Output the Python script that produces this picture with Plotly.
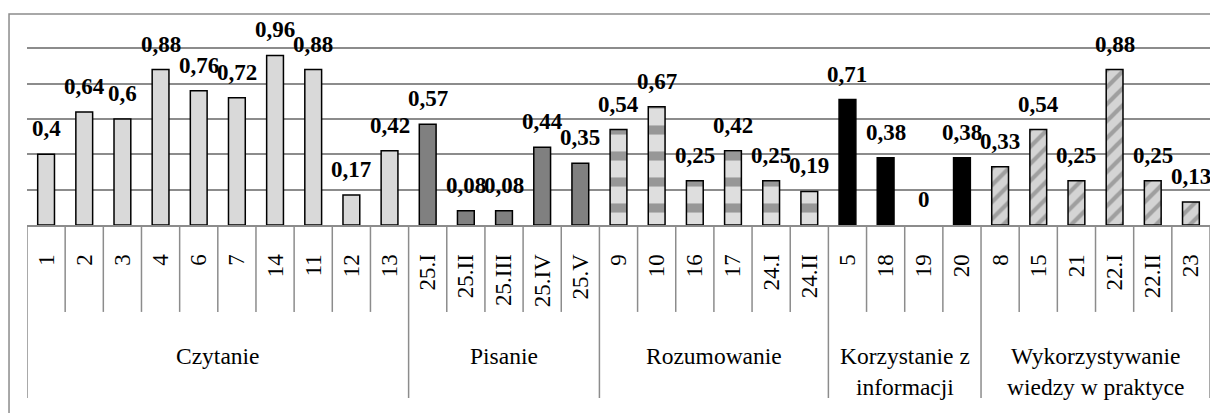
import plotly.graph_objects as go

# groups and the items under each one
groups = ["Czytanie", "Pisanie", "Rozumowanie",
          "Korzystanie z<br>informacji", "Wykorzystywanie<br>wiedzy w praktyce"]

czytanie_items = ["1", "2", "3", "4", "6", "7", "14", "11", "12", "13"]
czytanie_vals = [0.4, 0.64, 0.6, 0.88, 0.76, 0.72, 0.96, 0.88, 0.17, 0.42]

pisanie_items = ["25.I", "25.II", "25.III", "25.IV", "25.V"]
pisanie_vals = [0.57, 0.08, 0.08, 0.44, 0.35]

rozumowanie_items = ["9", "10", "16", "17", "24.I", "24.II"]
rozumowanie_vals = [0.54, 0.67, 0.25, 0.42, 0.25, 0.19]

korzystanie_items = ["5", "18", "19", "20"]
korzystanie_vals = [0.71, 0.38, 0, 0.38]

wiedza_items = ["8", "15", "21", "22.I", "22.II", "23"]
wiedza_vals = [0.33, 0.54, 0.25, 0.88, 0.25, 0.13]

group_items = [czytanie_items, pisanie_items, rozumowanie_items, korzystanie_items, wiedza_items]
group_vals = [czytanie_vals, pisanie_vals, rozumowanie_vals, korzystanie_vals, wiedza_vals]

# bar look per group (solid greys, black, and two patterned fills)
styles = [
    dict(color="#d9d9d9"),
    dict(color="#808080"),
    dict(color="#d0d0d0", pattern=dict(shape="-", fgcolor="#505050", bgcolor="#dedede",
                                       size=26, solidity=0.35)),
    dict(color="#000000"),
    dict(color="#c8c8c8", pattern=dict(shape="/", fgcolor="#6a6a6a", bgcolor="#d4d4d4",
                                       size=12, solidity=0.35)),
]

SERIF = "Liberation Serif, Times New Roman, serif"
GRID = "#8c8c8c"

fig = go.Figure()

all_items = []
annotations = []
shapes = []
start = 0
for name, items, vals, st in zip(groups, group_items, group_vals, styles):
    xs = list(range(start, start + len(items)))
    fig.add_trace(go.Bar(
        x=xs, y=vals, width=0.44,
        # no outline for an empty bar, so nothing shows on the baseline
        marker=dict(line=dict(color="black", width=[1.5 if v else 0 for v in vals]), **st),
        showlegend=False, hoverinfo="skip",
    ))
    for x, v in zip(xs, vals):
        annotations.append(dict(
            x=x, y=v, xref="x", yref="y", text="<b>%s</b>" % f"{v:g}".replace(".", ","),
            showarrow=False, yanchor="bottom", yshift=11,
            font=dict(family=SERIF, size=23, color="black"),
        ))
    # group label under the item labels
    annotations.append(dict(
        x=start + (len(items) - 1) / 2, y=-0.547, xref="x", yref="paper",
        text=name, showarrow=False, yanchor="top", align="center",
        font=dict(family=SERIF, size=23.5, color="black"),
    ))
    all_items += items
    start += len(items)

# separators of the category table
group_edges = {0}
n = 0
for items in group_items:
    n += len(items)
    group_edges.add(n)
for k in range(len(all_items) + 1):
    shapes.append(dict(
        type="line", xref="x", yref="paper", x0=k - 0.5, x1=k - 0.5,
        y0=-0.816 if k in group_edges else -0.41, y1=0,
        line=dict(color=GRID, width=1.5),
    ))

# outer frame of the chart area
shapes.append(dict(type="rect", xref="paper", yref="paper",
                   x0=-0.0152, x1=1.02, y0=-1.2, y1=0.995,
                   line=dict(color=GRID, width=1.5), layer="below"))

# page body has an 8px margin, so the figure is a little smaller than the window
fig.update_layout(
    width=1210, height=405,
    margin=dict(l=19, r=8, t=5, b=188),
    paper_bgcolor="white", plot_bgcolor="white",
    annotations=annotations,
    shapes=shapes,
    xaxis=dict(
        range=[-0.5, len(all_items) - 0.5],
        tickmode="array", tickvals=list(range(len(all_items))), ticktext=all_items,
        tickangle=-90, ticklabelstandoff=18,
        tickfont=dict(family=SERIF, size=23, color="black"),
        showgrid=False, showline=True, linecolor=GRID, linewidth=2,
        fixedrange=True,
    ),
    yaxis=dict(
        range=[0, 1.2], dtick=0.2, showticklabels=False,
        showgrid=True, gridcolor=GRID, gridwidth=1.5,
        zeroline=False, fixedrange=True,
    ),
)

fig.write_html("out.html")
